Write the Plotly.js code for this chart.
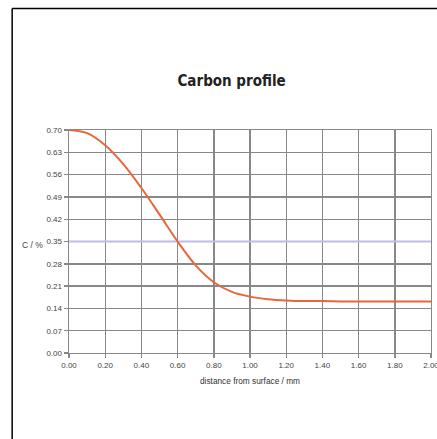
<!DOCTYPE html>
<html>
<head>
<meta charset="utf-8">
<script src="https://cdn.plot.ly/plotly-3.0.1.min.js"></script>
<style>
html,body{margin:0;padding:0;background:#fff;}
#chart{width:437px;height:439px;}
</style>
</head>
<body>
<div id="chart"></div>
<script>
const distance = [0.0, 0.1, 0.2, 0.3, 0.4, 0.5, 0.6, 0.7, 0.8, 0.9, 1.0, 1.1, 1.2, 1.3, 1.4, 1.5, 1.6, 1.7, 1.8, 1.9, 2.0];
const carbon   = [0.700, 0.690, 0.652, 0.593, 0.518, 0.435, 0.350, 0.275, 0.222, 0.192, 0.177, 0.169, 0.165, 0.163, 0.163, 0.162, 0.162, 0.162, 0.162, 0.162, 0.162];
const refX = [0.0, 2.0];
const refY = [0.35, 0.35];
const xTicks = [0, 0.2, 0.4, 0.6, 0.8, 1.0, 1.2, 1.4, 1.6, 1.8, 2.0];
const xTickText = ["0.00","0.20","0.40","0.60","0.80","1.00","1.20","1.40","1.60","1.80","2.00"];
const yTicks = [0, 0.07, 0.14, 0.21, 0.28, 0.35, 0.42, 0.49, 0.56, 0.63, 0.70];
const yTickText = ["0.00","0.07","0.14","0.21","0.28","0.35","0.42","0.49","0.56","0.63","0.70"];

const traces = [
  {x: refX, y: refY, type: 'scatter', mode: 'lines', line: {color: '#bdbde8', width: 2}, hoverinfo: 'skip'},
  {x: distance, y: carbon, type: 'scatter', mode: 'lines', line: {color: '#e8673a', width: 2, shape: 'spline', smoothing: 1}}
];

const tickFont = {family: 'Liberation Sans, Arial, sans-serif', size: 8, color: '#444'};
const layout = {
  width: 437, height: 439,
  margin: {l: 69, r: 6, t: 130, b: 86},
  paper_bgcolor: '#fff', plot_bgcolor: '#fff',
  showlegend: false,
  title: {text: '<b>Carbon profile</b>', x: 0.53, xanchor: 'center', y: 0.816, yanchor: 'middle',
          font: {family: 'DejaVu Sans Condensed, Liberation Sans, Arial, sans-serif', size: 15, color: '#222'}},
  xaxis: {range: [0, 2], tickvals: xTicks, ticktext: xTickText, tickfont: tickFont, ticklabeloverflow: 'allow',
          showgrid: true, gridcolor: '#888', gridwidth: 1.4, zeroline: false,
          showline: true, linecolor: '#888', linewidth: 1.4, mirror: true,
          ticks: 'outside', ticklen: 4, tickcolor: '#888', tickwidth: 1.4,
          title: {text: 'distance from surface / mm', font: {family: 'Liberation Sans, Arial, sans-serif', size: 8.3, color: '#333'}, standoff: 9}},
  yaxis: {range: [0, 0.70], tickvals: yTicks, ticktext: yTickText, tickfont: tickFont,
          showgrid: true, gridcolor: '#888', gridwidth: 1.4, zeroline: false,
          showline: true, linecolor: '#888', linewidth: 1.4, mirror: true,
          ticks: 'outside', ticklen: 4, tickcolor: '#888', tickwidth: 1.4},
  annotations: [
    {text: 'C / %', xref: 'paper', yref: 'y', x: -0.066, y: 0.339, xanchor: 'right', yanchor: 'middle', showarrow: false,
     font: {family: 'Liberation Sans, Arial, sans-serif', size: 8.5, color: '#444'}}
  ],
  shapes: [
    {type: 'line', xref: 'paper', yref: 'paper', x0: -0.157, x1: 1.2, y0: 1.545, y1: 1.545, line: {color: '#000', width: 1.5}},
    {type: 'line', xref: 'paper', yref: 'paper', x0: -0.157, x1: -0.157, y0: 1.545, y1: -0.5, line: {color: '#000', width: 1.5}}
  ]
};
Plotly.newPlot('chart', traces, layout, {displayModeBar: false, staticPlot: true});
</script>
</body>
</html>
